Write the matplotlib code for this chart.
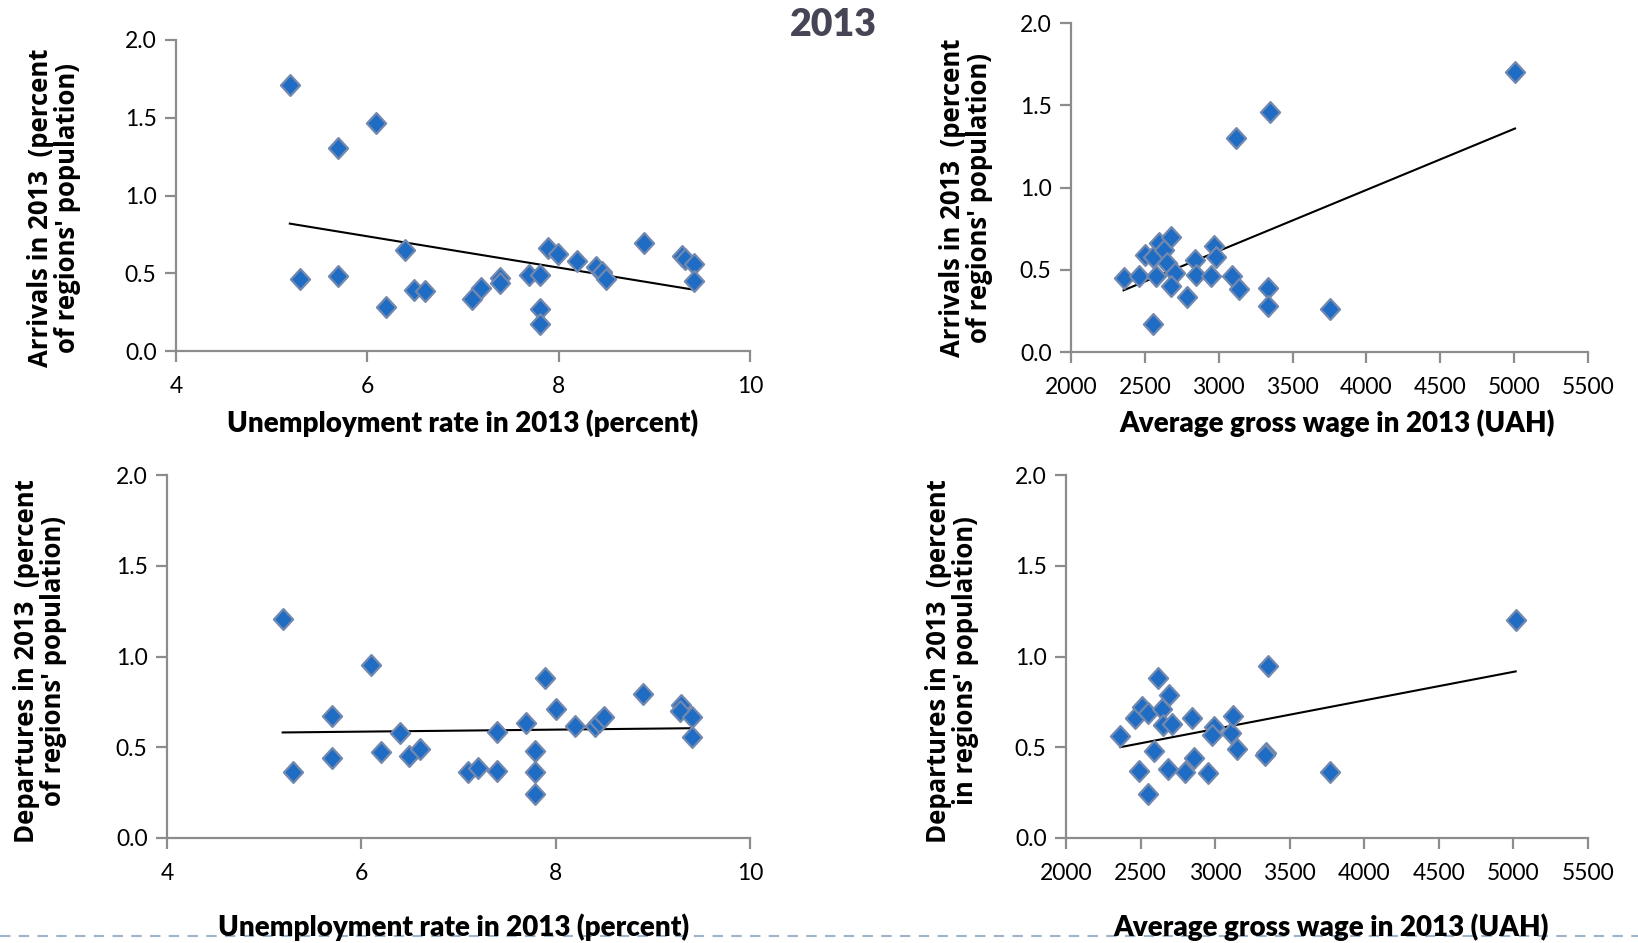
import numpy as np
import matplotlib
matplotlib.use("Agg")
import matplotlib.pyplot as plt
from matplotlib.path import Path
from matplotlib.lines import Line2D

plt.rcParams['font.family'] = ['Lato', 'DejaVu Sans']

unemp_a = [5.19, 5.3, 5.69, 5.69, 6.09, 6.19, 6.39, 6.49, 6.6, 7.09, 7.19, 7.39, 7.39, 7.69,
           7.8, 7.8, 7.8, 7.89, 7.99, 8.19, 8.39, 8.45, 8.49, 8.89, 9.29, 9.32, 9.41, 9.41]
arrivals_u = [1.71, 0.464, 1.305, 0.483, 1.467, 0.28, 0.648, 0.394, 0.387, 0.334, 0.404, 0.468, 0.436, 0.488,
              0.488, 0.267, 0.173, 0.663, 0.625, 0.58, 0.539, 0.51, 0.462, 0.695, 0.61, 0.59, 0.558, 0.447]

unemp_d = [5.19, 5.3, 5.7, 5.7, 6.1, 6.2, 6.4, 6.49, 6.6, 7.1, 7.2, 7.4, 7.4, 7.69,
           7.79, 7.79, 7.79, 7.89, 8.0, 8.2, 8.4, 8.45, 8.5, 8.9, 9.29, 9.28, 9.4, 9.4]
departures_u = [1.204, 0.361, 0.671, 0.442, 0.953, 0.475, 0.577, 0.453, 0.491, 0.365, 0.385, 0.585, 0.37, 0.631,
                0.48, 0.365, 0.244, 0.88, 0.713, 0.618, 0.618, 0.64, 0.665, 0.796, 0.735, 0.70, 0.664, 0.557]

wage_a = [2356, 2463, 2498, 2556, 2577, 2598, 2632, 2653, 2677, 2701, 2677, 2553, 2788,
          2840, 2847, 2950, 2971, 2985, 3092, 3116, 3140, 3334, 3334, 3348, 3752, 5006]
arrivals_w = [0.447, 0.46, 0.59, 0.58, 0.465, 0.66, 0.62, 0.54, 0.70, 0.48, 0.40, 0.17, 0.335,
              0.56, 0.47, 0.46, 0.645, 0.575, 0.465, 1.30, 0.38, 0.39, 0.28, 1.46, 0.26, 1.70]

wage_d = [2365, 2464, 2509, 2548, 2492, 2590, 2552, 2615, 2646, 2653, 2689, 2713, 2682,
          2801, 2847, 2857, 2949, 2994, 2977, 3103, 3121, 3149, 3339, 3332, 3353, 3767, 5015]
departures_w = [0.56, 0.66, 0.72, 0.69, 0.37, 0.48, 0.245, 0.88, 0.71, 0.62, 0.79, 0.63, 0.38,
                0.365, 0.66, 0.44, 0.36, 0.61, 0.57, 0.58, 0.67, 0.49, 0.47, 0.455, 0.95, 0.365, 1.20]

y_ticks = [0.0, 0.5, 1.0, 1.5, 2.0]
unemp_ticks = [4, 6, 8, 10]
wage_ticks = [2000, 2500, 3000, 3500, 4000, 4500, 5000, 5500]

W, H = 1638, 943
diamond = Path([(0, 1), (0.92, 0), (0, -1), (-0.92, 0), (0, 1)],
               [Path.MOVETO, Path.LINETO, Path.LINETO, Path.LINETO, Path.CLOSEPOLY])


def px_axes(fig, left, top, right, bottom):
    return fig.add_axes([left / W, 1 - bottom / H, (right - left) / W, (bottom - top) / H])


def panel(ax, x, y, xticks, ylabel_pos, ylabel, xlabel_pos, xlabel, fig):
    ax.plot(x, y, linestyle='none', marker=diamond, markersize=15,
            markerfacecolor='#1f6cc4', markeredgecolor='#7388ad', markeredgewidth=1.6, zorder=3)
    k, b = np.polyfit(x, y, 1)
    xs = np.array([min(x), max(x)])
    ax.plot(xs, k * xs + b, color='black', linewidth=1.5, zorder=2)
    ax.set_xlim(xticks[0], xticks[-1])
    ax.set_ylim(0, 2)
    ax.set_xticks(xticks)
    ax.set_yticks(y_ticks)
    ax.set_yticklabels(['%.1f' % v for v in y_ticks])
    for s in ['top', 'right']:
        ax.spines[s].set_visible(False)
    for s in ['left', 'bottom']:
        ax.spines[s].set_color('#8c8c8c')
        ax.spines[s].set_linewidth(1.6)
    ax.tick_params(axis='both', direction='out', length=8, width=1.6, color='#8c8c8c',
                   labelsize=16.5, labelcolor='black', pad=6)
    ax.tick_params(axis='x', pad=10)
    ax.patch.set_alpha(0)
    fig.text(ylabel_pos[0] / W, 1 - ylabel_pos[1] / H, ylabel, rotation=90, ha='center', va='center',
             multialignment='center', fontsize=18.5, fontweight='bold', linespacing=1.0,
             family=['Open Sans', 'DejaVu Sans'])
    fig.text(xlabel_pos[0] / W, 1 - xlabel_pos[1] / H, xlabel, ha='center', va='center',
             fontsize=20, fontweight='heavy')


fig = plt.figure(figsize=(W / 100, H / 100), dpi=100)

ax1 = px_axes(fig, 176, 40, 750, 351)
panel(ax1, unemp_a, arrivals_u, unemp_ticks, (54, 208),
      "Arrivals in 2013  (percent\nof regions' population)",
      (463, 423), "Unemployment rate in 2013 (percent)", fig)

ax2 = px_axes(fig, 1071, 23, 1588, 352)
panel(ax2, wage_a, arrivals_w, wage_ticks, (966, 198),
      "Arrivals in 2013  (percent\nof regions' population)",
      (1337, 423), "Average gross wage in 2013 (UAH)", fig)

ax3 = px_axes(fig, 167, 475, 750, 838)
panel(ax3, unemp_d, departures_u, unemp_ticks, (40, 661),
      "Departures in 2013  (percent\nof regions' population)",
      (454, 927), "Unemployment rate in 2013 (percent)", fig)

ax4 = px_axes(fig, 1066, 475, 1588, 838)
panel(ax4, wage_d, departures_w, wage_ticks, (952, 661),
      "Departures in 2013  (percent\nin regions' population)",
      (1331, 927), "Average gross wage in 2013 (UAH)", fig)

fig.text(833 / W, 1 - 25 / H, "2013", ha='center', va='center', fontsize=27,
         fontweight='heavy', color='#454555')

fig.add_artist(Line2D([0, 1], [1 - 936 / H, 1 - 936 / H], transform=fig.transFigure,
                      color='#9db4ca', linewidth=1.5, linestyle=(0, (5, 4)), zorder=0))

fig.savefig("out.png", dpi=100)
